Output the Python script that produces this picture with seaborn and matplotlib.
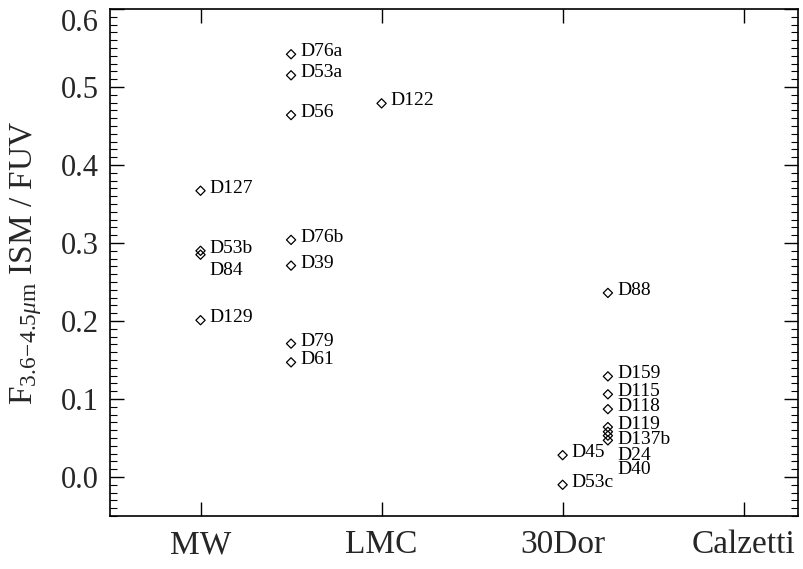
import matplotlib
matplotlib.use('Agg')
import matplotlib.pyplot as plt
import seaborn as sns
import pandas as pd
from matplotlib.ticker import MultipleLocator, FixedLocator

# ---- data ----
categories = ['MW', 'LMC', '30Dor', 'Calzetti']
category_x = [1, 2, 3, 4]

names = ['D127', 'D53b', 'D84', 'D129',
         'D76a', 'D53a', 'D56', 'D76b', 'D39', 'D79', 'D61',
         'D122',
         'D45', 'D53c',
         'D88', 'D159', 'D115', 'D118', 'D119', 'D137b', 'D24', 'D40']
xpos = [1.0, 1.0, 1.0, 1.0,
        1.5, 1.5, 1.5, 1.5, 1.5, 1.5, 1.5,
        2.0,
        3.0, 3.0,
        3.25, 3.25, 3.25, 3.25, 3.25, 3.25, 3.25, 3.25]
ratio = [0.367, 0.290, 0.285, 0.201,
         0.542, 0.515, 0.464, 0.304, 0.271, 0.171, 0.147,
         0.479,
         0.028, -0.010,
         0.236, 0.129, 0.106, 0.087, 0.064, 0.058, 0.053, 0.047]
# labels moved off crowded points (data units)
label_y_override = {'D84': 0.262, 'D137b': 0.045, 'D24': 0.025, 'D40': 0.006}

df = pd.DataFrame({'name': names, 'x': xpos, 'ratio': ratio})

# ---- style ----
sns.set_style('white')
serif = ['Liberation Serif', 'DejaVu Serif']
plt.rcParams['font.family'] = serif
plt.rcParams['mathtext.fontset'] = 'custom'
plt.rcParams['mathtext.rm'] = 'Liberation Serif'
plt.rcParams['mathtext.it'] = 'Liberation Serif:italic'

fig = plt.figure(figsize=(8.04, 5.69), dpi=100)
ax = fig.add_axes([110/804, 1 - 516/569, (798 - 110)/804, (516 - 9)/569])

sns.scatterplot(data=df, x='x', y='ratio', ax=ax, marker='D', s=22,
                facecolor='none', edgecolor='black', linewidth=0.9, legend=False)

for n, xv, yv in zip(names, xpos, ratio):
    ly = label_y_override.get(n, yv)
    ax.annotate(n, xy=(xv, ly), xytext=(6.5, -1.5), textcoords='offset points',
                va='baseline', ha='left', fontsize=14, color='black')

ax.set_xlim(0.5, 4.3)
ax.set_ylim(-0.05, 0.6)
ax.xaxis.set_major_locator(FixedLocator(category_x))
ax.set_xticklabels(categories)
ax.yaxis.set_major_locator(MultipleLocator(0.1))
ax.yaxis.set_minor_locator(MultipleLocator(0.01))
ax.yaxis.set_major_formatter(matplotlib.ticker.FormatStrFormatter('%.1f'))

ax.tick_params(axis='x', which='major', direction='in', length=10, width=1,
               top=True, bottom=True, labelsize=24, pad=10, color='black')
ax.tick_params(axis='y', which='major', direction='in', length=10, width=1,
               left=True, right=True, labelsize=22, pad=8, color='black')
ax.tick_params(axis='y', which='minor', direction='in', length=5, width=0.8,
               left=True, right=True, color='black')

for sp in ax.spines.values():
    sp.set_color('black')
    sp.set_linewidth(1.2)

ax.set_xlabel('')
ax.set_ylabel(r'F$_{3.6\!-\!4.5\mu\mathrm{m}}$ ISM / FUV', fontsize=24, labelpad=12)

# keep the top tick label inside the figure (as in the reference)
fig.canvas.draw()
for lab in ax.get_yticklabels():
    if lab.get_text() == '0.6':
        lab.set_verticalalignment('top')

fig.savefig('out.png', dpi=100, facecolor='white')
